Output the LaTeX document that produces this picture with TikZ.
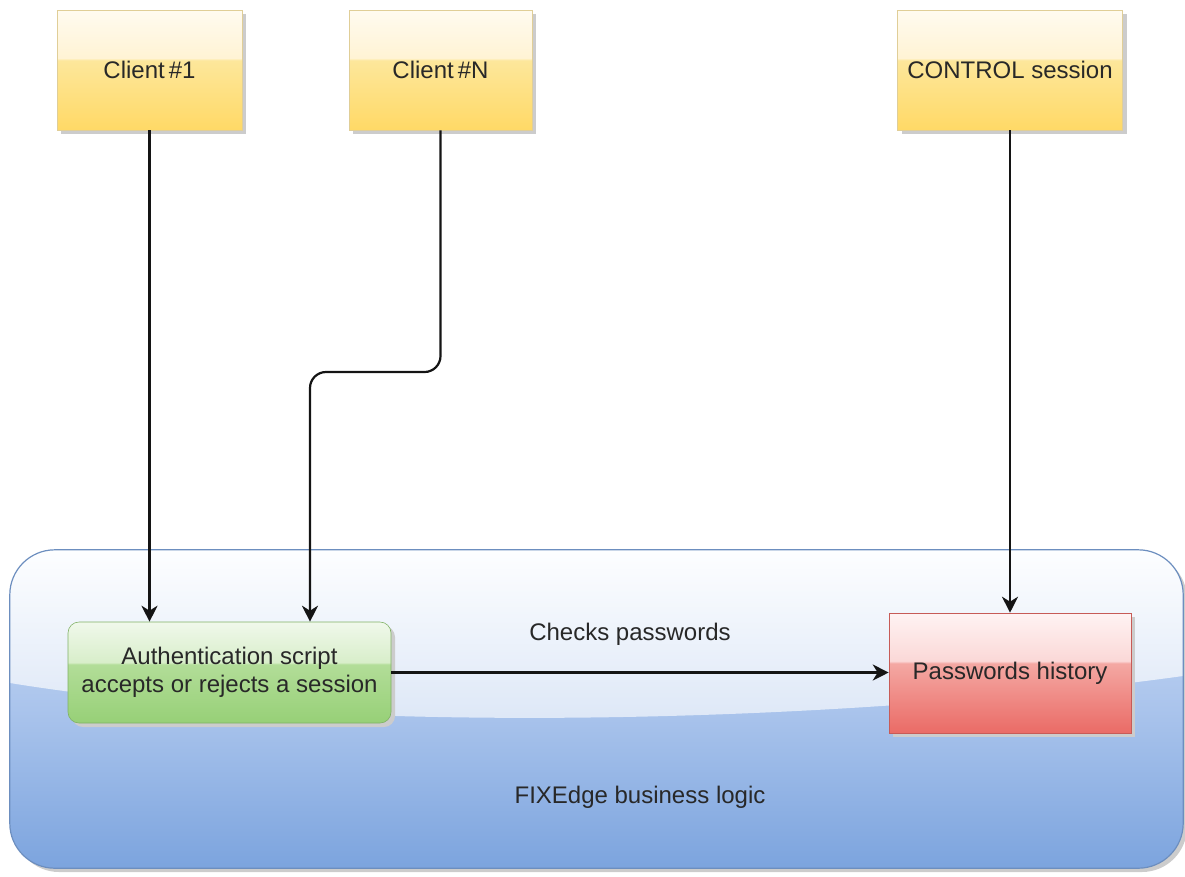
\documentclass[tikz,border=0pt]{standalone}
\usepackage{fontspec}
\setmainfont{Liberation Sans}
\usetikzlibrary{arrows.meta,shadows}
\definecolor{ybot}{RGB}{255,217,102}
\definecolor{ylow}{RGB}{253,231,155}
\definecolor{yhigh}{RGB}{255,243,212}
\definecolor{ytop}{RGB}{255,251,240}
\definecolor{gbot}{RGB}{151,208,119}
\definecolor{glow}{RGB}{178,221,152}
\definecolor{ghigh}{RGB}{216,238,202}
\definecolor{gtop}{RGB}{240,248,235}
\definecolor{rbot}{RGB}{234,107,102}
\definecolor{rlow}{RGB}{244,168,163}
\definecolor{rhigh}{RGB}{251,216,215}
\definecolor{rtop}{RGB}{255,243,243}
\definecolor{bbot}{RGB}{124,164,222}
\definecolor{bmid}{RGB}{170,196,236}
\definecolor{btop}{RGB}{205,221,246}
\definecolor{gltop}{RGB}{253,254,255}
\definecolor{glbot}{RGB}{218,229,246}
\definecolor{bborder}{RGB}{108,142,191}
\definecolor{txt}{RGB}{40,40,40}
\definecolor{wire}{RGB}{20,20,20}
\pgfdeclareverticalshading{yshade}{100bp}{color(0bp)=(ybot); color(25bp)=(ybot); color(54bp)=(ylow); color(55bp)=(yhigh); color(75bp)=(ytop); color(100bp)=(ytop)}
\pgfdeclareverticalshading{gshade}{100bp}{color(0bp)=(gbot); color(25bp)=(gbot); color(54bp)=(glow); color(55bp)=(ghigh); color(75bp)=(gtop); color(100bp)=(gtop)}
\pgfdeclareverticalshading{rshade}{100bp}{color(0bp)=(rbot); color(25bp)=(rbot); color(54bp)=(rlow); color(55bp)=(rhigh); color(75bp)=(rtop); color(100bp)=(rtop)}
\pgfdeclareverticalshading{bshade}{100bp}{color(0bp)=(bbot); color(25bp)=(bbot); color(50bp)=(bmid); color(75bp)=(btop); color(100bp)=(btop)}
\pgfdeclareverticalshading{glshade}{100bp}{color(0bp)=(glbot); color(25bp)=(glbot); color(75bp)=(gltop); color(100bp)=(gltop)}
\tikzset{
  every node/.style={font=\fontsize{24}{28}\selectfont, text=txt},
  shadowed/.style={drop shadow={shadow xshift=4pt, shadow yshift=-4pt, fill=black!20, opacity=1}},
  clientbox/.style={shadowed, shading=yshade, draw=ybot!80!black!60, line width=0.6pt, minimum height=120pt, inner sep=0pt},
  authbox/.style={shadowed, shading=gshade, draw=gbot!85!black, line width=0.6pt, rounded corners=11pt, minimum width=323pt, minimum height=101pt, align=center, inner sep=0pt},
  histbox/.style={shadowed, shading=rshade, draw=rbot!85!black, line width=0.6pt, minimum width=242pt, minimum height=120pt, inner sep=0pt},
  containerbox/.style={shadowed, shading=bshade, rounded corners=45pt, minimum width=1173pt, minimum height=318pt, inner sep=0pt},
  wirearrow/.style={draw=wire, line width=2.2pt, -{Stealth[length=16pt, width=16pt, inset=5pt]}},
}
\begin{document}
\begin{tikzpicture}[x=1pt, y=-1pt]
\useasboundingbox (0,0) rectangle (1185,876);
% container
\node[containerbox] (logic) at (596.5,709) {};
\begin{scope}
  \clip[rounded corners=45pt] (logic.north west) rectangle (logic.south east);
  \shade[shading=glshade] (logic.north west) -- (10,683) .. controls (350,738) and (850,722) .. (1183,676) -- (logic.north east) -- cycle;
\end{scope}
\draw[draw=bborder, line width=1.2pt, rounded corners=45pt] (logic.north west) rectangle (logic.south east);
\node (logiclbl) at (640,797) {FIXEdge business logic};
% top boxes
\node[clientbox, minimum width=185pt] (c1) at (149.5,70) {Client\,\#1};
\node[clientbox, minimum width=183pt] (cN) at (440.5,70) {Client\,\#N};
\node[clientbox, minimum width=225pt] (ctrl) at (1010,70) {CONTROL session};
% inner boxes
\node[authbox] (auth) at (229.5,672.5) {Authentication script\\accepts or rejects a session};
\node[histbox] (ph) at (1010,673) {Passwords history};
% connectors
\coordinate (bend) at (310,372);
\draw[wirearrow] (c1.south) -- (c1.south |- auth.north);
\draw[wirearrow, rounded corners=16pt] (cN.south) |- (bend) -- (bend |- auth.north);
\draw[wirearrow] (ctrl.south) -- (ph.north);
\draw[wirearrow] (auth.east) -- (auth.east -| ph.west);
\node (checks) at (630,634) {Checks passwords};
\end{tikzpicture}
\end{document}
